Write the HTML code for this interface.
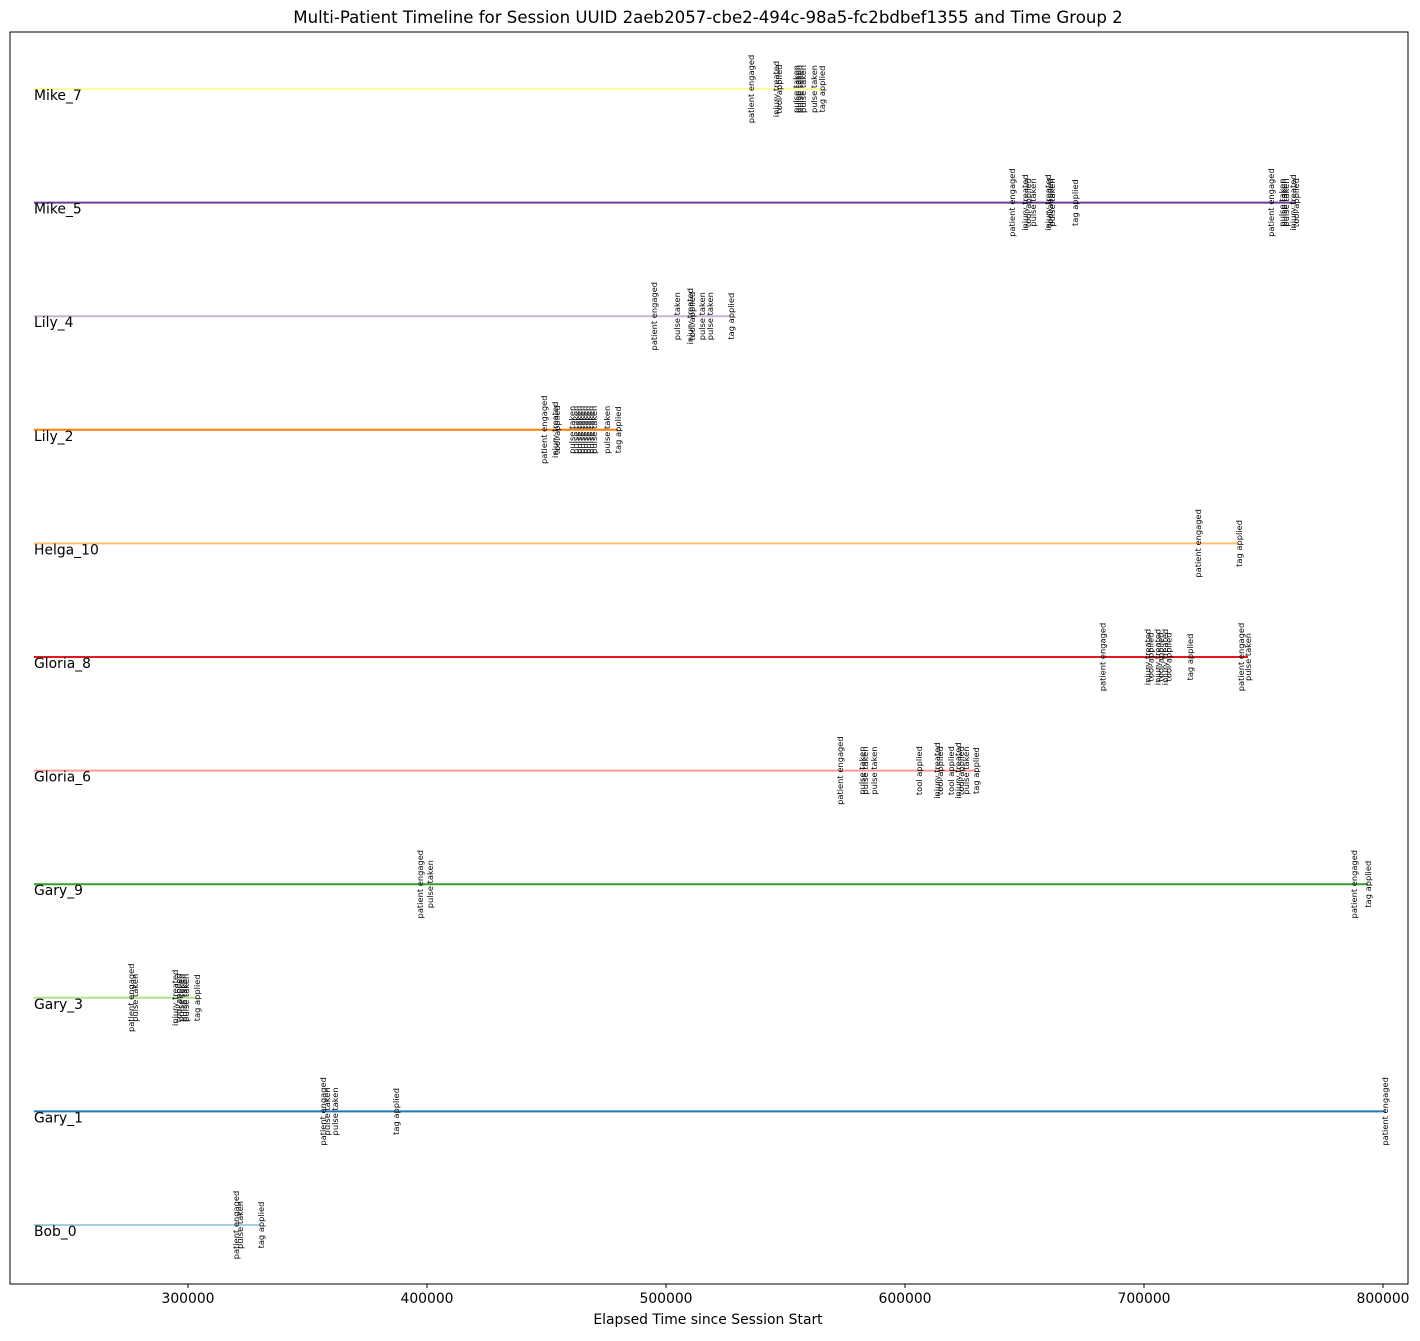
<!DOCTYPE html>
<html><head><meta charset="utf-8"><style>
body{margin:0;background:#fff}
svg{font-family:"DejaVu Sans","Liberation Sans",sans-serif}
</style></head><body>
<svg id="chart" width="1420" height="1336">
<text x="708" y="23" font-size="16.6" text-anchor="middle">Multi-Patient Timeline for Session UUID 2aeb2057-cbe2-494c-98a5-fc2bdbef1355 and Time Group 2</text>
<text x="708" y="1324" font-size="13.9" text-anchor="middle">Elapsed Time since Session Start</text>
<rect x="10" y="32" width="1398" height="1252" fill="none" stroke="#000" stroke-width="1"/>
<g id="marks"></g>
</svg>
<script>
const patients = ["Bob_0","Gary_1","Gary_3","Gary_9","Gloria_6","Gloria_8","Helga_10","Lily_2","Lily_4","Mike_5","Mike_7"];
const colors = ["#a6cee3","#1f78b4","#b2df8a","#33a02c","#fb9a99","#e31a1c","#fdbf6f","#ff7f00","#cab2d6","#6a3d9a","#ffff99"];
const lineStart = 235540;
const xTicks = [300000,400000,500000,600000,700000,800000];
const eventTimes = [
 [320100,321800,330500],
 [356500,358200,361500,387000,800800],
 [276100,277800,294600,296000,297100,298300,299200,303800],
 [397100,401300,787800,793700],
 [572800,582000,583300,587000,605800,613400,614600,619200,622200,623400,625500,629700],
 [682600,701400,702700,705600,706900,708800,710200,719200,740600,743500],
 [722600,739700],
 [449000,453600,454400,460700,462300,463600,464900,466100,467400,468600,469900,475300,479900],
 [495000,504600,510000,510900,515100,518400,527200],
 [644800,650200,651500,653500,659800,660600,661500,671100,753100,757700,758600,759400,762300,763600],
 [535600,546000,547300,554400,555200,556100,557300,561900,565300]
];
const eventLabels = [
 ["patient engaged","pulse taken","tag applied"],
 ["patient engaged","pulse taken","pulse taken","tag applied","patient engaged"],
 ["patient engaged","pulse taken","injury treated","tool applied","pulse taken","pulse taken","pulse taken","tag applied"],
 ["patient engaged","pulse taken","patient engaged","tag applied"],
 ["patient engaged","pulse taken","pulse taken","pulse taken","tool applied","injury treated","tool applied","tool applied","injury treated","tool applied","pulse taken","tag applied"],
 ["patient engaged","injury treated","tool applied","injury treated","tool applied","injury treated","tool applied","tag applied","patient engaged","pulse taken"],
 ["patient engaged","tag applied"],
 ["patient engaged","injury treated","tool applied","pulse taken","pulse taken","pulse taken","pulse taken","pulse taken","pulse taken","pulse taken","pulse taken","pulse taken","tag applied"],
 ["patient engaged","pulse taken","injury treated","tool applied","pulse taken","pulse taken","tag applied"],
 ["patient engaged","injury treated","tool applied","pulse taken","injury treated","tool applied","pulse taken","tag applied","patient engaged","pulse taken","pulse taken","pulse taken","injury treated","tool applied"],
 ["patient engaged","injury treated","tool applied","pulse taken","pulse taken","pulse taken","pulse taken","pulse taken","tag applied"]
];
const NS="http://www.w3.org/2000/svg";
const g=document.getElementById('marks');
const xS=v=>188+(v-300000)/100000*239;
const yS=i=>1225-i*113.6;
function mk(tag,attrs,parent){const e=document.createElementNS(NS,tag);for(const k in attrs)e.setAttribute(k,attrs[k]);(parent||g).appendChild(e);return e;}
xTicks.forEach(t=>{
 const l=mk('line',{x1:xS(t),x2:xS(t),y1:1284,y2:1288,stroke:'#000'});
 
 
 const tx=mk('text',{x:xS(t),y:1303,'font-size':13.9,'text-anchor':'middle'});
 tx.textContent=t;
 
 
});
patients.forEach((p,i)=>{
 const y=yS(i);
 const times=eventTimes[i];
 const end=Math.max(...times);
 const ln=mk('line',{x1:xS(lineStart),x2:xS(end),y1:y,y2:y,stroke:colors[i],'stroke-width':2});
 
 
 const nm=mk('text',{x:34,y:y+11,'font-size':13.9});
 nm.textContent=p;
 
 
 times.forEach((t,j)=>{
  const x=xS(t);
  const tx=mk('text',{x:0,y:0,'font-size':8.3,'text-anchor':'middle','dominant-baseline':'central',transform:`translate(${x},${y}) rotate(-90)`});
  tx.textContent=eventLabels[i][j];
  
  
 });
});
</script>
</body></html>
